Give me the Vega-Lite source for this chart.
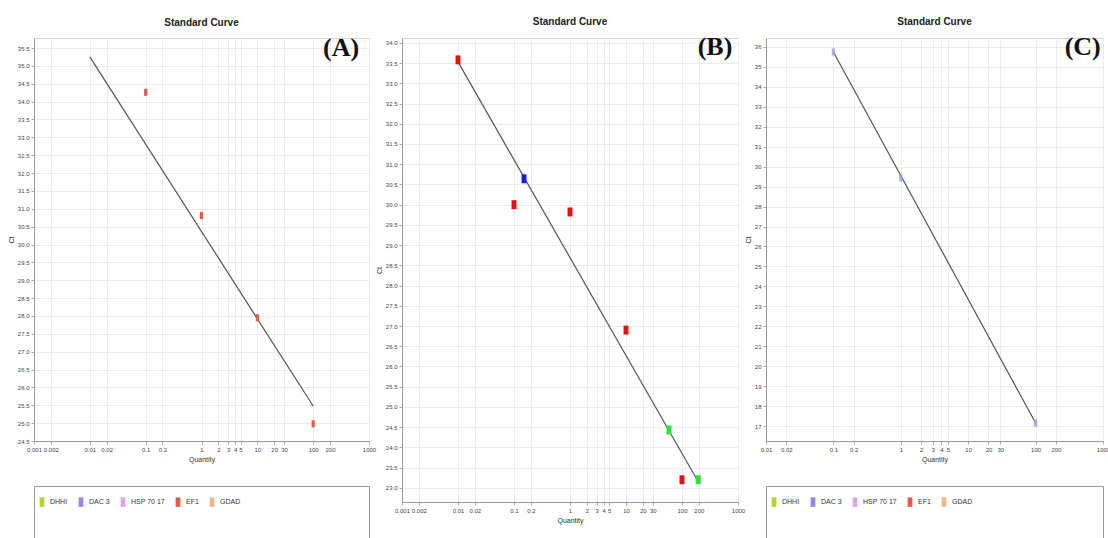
{
  "$schema": "https://vega.github.io/schema/vega-lite/v6.json",
  "background": "white",
  "padding": {"left": 6, "top": 16, "right": 0, "bottom": 0},
  "spacing": -3,
  "config": {
    "font": "Liberation Sans",
    "view": {"stroke": "#d4d4d4"},
    "axis": {"labelFontSize": 6, "labelColor": "#444", "titleFontSize": 7, "titleFontWeight": "normal", "titleColor": "#333", "gridColor": "#ebebeb", "domainColor": "#999", "tickColor": "#aaa", "tickSize": 3, "labelPadding": 2, "titlePadding": 3, "tickCount": 200},
    "title": {"fontSize": 10, "fontWeight": "bold", "color": "#222", "offset": 7}
  },
  "datasets": {
    "targets": [
      {"target": "DHHI"}, {"target": "DAC 3"}, {"target": "HSP 70 17"}, {"target": "EF1"}, {"target": "GDAD"}
    ],
    "ptsA": [
      {"quantity": 0.1, "ct": 34.26, "target": "EF1"},
      {"quantity": 1, "ct": 30.81, "target": "EF1"},
      {"quantity": 10, "ct": 27.95, "target": "EF1"},
      {"quantity": 100, "ct": 24.98, "target": "EF1"}
    ],
    "lineA": [
      {"quantity": 0.01, "ct": 35.25},
      {"quantity": 100, "ct": 25.48}
    ],
    "ptsB": [
      {"quantity": 0.01, "ct": 33.58, "target": "EF1"},
      {"quantity": 0.151, "ct": 30.64, "target": "DAC 3"},
      {"quantity": 0.1, "ct": 30.0, "target": "EF1"},
      {"quantity": 1, "ct": 29.82, "target": "EF1"},
      {"quantity": 10, "ct": 26.9, "target": "EF1"},
      {"quantity": 58.6, "ct": 24.43, "target": "DHHI"},
      {"quantity": 100, "ct": 23.2, "target": "EF1"},
      {"quantity": 195, "ct": 23.2, "target": "DHHI"}
    ],
    "lineB": [
      {"quantity": 0.01, "ct": 33.53},
      {"quantity": 195, "ct": 23.15}
    ],
    "ptsC": [
      {"quantity": 0.1, "ct": 35.75, "target": "DAC 3"},
      {"quantity": 1, "ct": 29.43, "target": "DAC 3"},
      {"quantity": 100, "ct": 17.15, "target": "DAC 3"}
    ],
    "lineC": [
      {"quantity": 0.1, "ct": 35.75},
      {"quantity": 100, "ct": 17.15}
    ]
  },
  "resolve": {"scale": {"x": "independent", "y": "independent", "color": "independent"}, "legend": {"color": "independent"}},
  "hconcat": [
    {
      "spacing": 22,
      "resolve": {"scale": {"x": "independent", "y": "independent", "color": "independent"}, "legend": {"color": "independent"}},
      "vconcat": [
        {
          "title": "Standard Curve",
          "width": 335,
          "height": 403,
          "layer": [
            {
              "data": {"name": "lineA"},
              "mark": {"type": "line", "color": "#555", "strokeWidth": 1.2},
              "encoding": {
                "x": {"field": "quantity", "type": "quantitative", "scale": {"type": "log", "domain": [0.001, 1000]}, "axis": {"title": "Quantity", "values": [0.001, 0.002, 0.01, 0.02, 0.1, 0.2, 1, 2, 3, 4, 5, 10, 20, 30, 100, 200, 1000], "format": "~g", "labelOverlap": false, "labelFlush": false, "tickCount": 200}},
                "y": {"field": "ct", "type": "quantitative", "scale": {"domain": [24.5, 35.78], "nice": false, "zero": false}, "axis": {"title": "Ct", "values": [24.5, 25, 25.5, 26, 26.5, 27, 27.5, 28, 28.5, 29, 29.5, 30, 30.5, 31, 31.5, 32, 32.5, 33, 33.5, 34, 34.5, 35, 35.5], "format": ".1f", "labelOverlap": false, "tickCount": 200}}
              }
            },
            {
              "data": {"name": "ptsA"},
              "mark": {"type": "point", "shape": "M-0.45,-1H0.45V1H-0.45Z", "filled": true, "size": 50, "opacity": 1},
              "encoding": {
                "x": {"field": "quantity", "type": "quantitative"},
                "y": {"field": "ct", "type": "quantitative"},
                "color": {"field": "target", "type": "nominal", "scale": {"domain": ["DHHI", "DAC 3", "HSP 70 17", "EF1", "GDAD"], "range": ["#b5d334", "#9a86dc", "#dca6e6", "#e25a48", "#f4b596"]}, "legend": null}
              }
            },
            {
              "data": {"values": [{}]},
              "mark": {"type": "text", "text": "(A)", "font": "Liberation Serif", "fontSize": 26, "fontWeight": "bold", "baseline": "middle", "align": "center", "color": "#111"},
              "encoding": {"x": {"datum": 316}, "y": {"datum": 35.5}}
            }
          ]
        },
        {
          "width": 335,
          "height": 52,
          "data": {"name": "targets"},
          "view": {"stroke": "#999"},
          "mark": {"type": "point", "opacity": 0, "filled": true},
          "encoding": {
            "color": {"field": "target", "type": "nominal", "scale": {"domain": ["DHHI", "DAC 3", "HSP 70 17", "EF1", "GDAD"], "range": ["#b5d334", "#9a86dc", "#dca6e6", "#e25a48", "#f4b596"]}, "legend": {"orient": "none", "legendX": 3, "legendY": 11, "direction": "horizontal", "title": null, "symbolType": "M-0.5,-1H0.5V1H-0.5Z", "symbolSize": 90, "symbolOpacity": 1, "symbolStrokeWidth": 0, "labelFontSize": 7, "labelColor": "#333", "columnPadding": 8, "labelOffset": 3}}
          }
        }
      ]
    },
    {
      "title": "Standard Curve",
      "width": 336,
      "height": 464,
      "layer": [
        {
          "data": {"name": "lineB"},
          "mark": {"type": "line", "color": "#555", "strokeWidth": 1.2},
          "encoding": {
            "x": {"field": "quantity", "type": "quantitative", "scale": {"type": "log", "domain": [0.001, 1000]}, "axis": {"title": "Quantity", "values": [0.001, 0.002, 0.01, 0.02, 0.1, 0.2, 1, 2, 3, 4, 5, 10, 20, 30, 100, 200, 1000], "format": "~g", "labelOverlap": false, "labelFlush": false, "tickCount": 200}},
            "y": {"field": "ct", "type": "quantitative", "scale": {"domain": [22.65, 34.12], "nice": false, "zero": false}, "axis": {"title": "Ct", "values": [23, 23.5, 24, 24.5, 25, 25.5, 26, 26.5, 27, 27.5, 28, 28.5, 29, 29.5, 30, 30.5, 31, 31.5, 32, 32.5, 33, 33.5, 34], "format": ".1f", "labelOverlap": false, "tickCount": 200}}
          }
        },
        {
          "data": {"name": "ptsB"},
          "mark": {"type": "point", "shape": "M-0.55,-1H0.55V1H-0.55Z", "filled": true, "size": 80, "opacity": 1},
          "encoding": {
            "x": {"field": "quantity", "type": "quantitative"},
            "y": {"field": "ct", "type": "quantitative"},
            "color": {"field": "target", "type": "nominal", "scale": {"domain": ["DHHI", "DAC 3", "EF1"], "range": ["#2fe03a", "#1c1cd0", "#e01414"]}, "legend": null}
          }
        },
        {
          "data": {"values": [{}]},
          "mark": {"type": "text", "text": "(B)", "font": "Liberation Serif", "fontSize": 26, "fontWeight": "bold", "baseline": "middle", "align": "center", "color": "#111"},
          "encoding": {"x": {"datum": 389}, "y": {"datum": 33.9}}
        }
      ]
    },
    {
      "spacing": 22,
      "resolve": {"scale": {"x": "independent", "y": "independent", "color": "independent"}, "legend": {"color": "independent"}},
      "vconcat": [
        {
          "title": "Standard Curve",
          "width": 337,
          "height": 403,
          "layer": [
            {
              "data": {"name": "lineC"},
              "mark": {"type": "line", "color": "#555", "strokeWidth": 1.2},
              "encoding": {
                "x": {"field": "quantity", "type": "quantitative", "scale": {"type": "log", "domain": [0.01, 1000]}, "axis": {"title": "Quantity", "values": [0.01, 0.02, 0.1, 0.2, 1, 2, 3, 4, 5, 10, 20, 30, 100, 200, 1000], "format": "~g", "labelOverlap": false, "labelFlush": false, "tickCount": 200}},
                "y": {"field": "ct", "type": "quantitative", "scale": {"domain": [16.25, 36.45], "nice": false, "zero": false}, "axis": {"title": "Ct", "values": [17, 18, 19, 20, 21, 22, 23, 24, 25, 26, 27, 28, 29, 30, 31, 32, 33, 34, 35, 36], "format": "d", "labelOverlap": false, "tickCount": 200}}
              }
            },
            {
              "data": {"name": "ptsC"},
              "mark": {"type": "point", "shape": "M-0.45,-1H0.45V1H-0.45Z", "filled": true, "size": 50, "opacity": 0.8},
              "encoding": {
                "x": {"field": "quantity", "type": "quantitative"},
                "y": {"field": "ct", "type": "quantitative"},
                "color": {"field": "target", "type": "nominal", "scale": {"domain": ["DHHI", "DAC 3", "HSP 70 17", "EF1", "GDAD"], "range": ["#b5d334", "#9a9ae6", "#dca6e6", "#e25a48", "#f4b596"]}, "legend": null}
              }
            },
            {
              "data": {"values": [{}]},
              "mark": {"type": "text", "text": "(C)", "font": "Liberation Serif", "fontSize": 26, "fontWeight": "bold", "baseline": "middle", "align": "center", "color": "#111"},
              "encoding": {"x": {"datum": 500}, "y": {"datum": 36.0}}
            }
          ]
        },
        {
          "width": 337,
          "height": 52,
          "data": {"name": "targets"},
          "view": {"stroke": "#999"},
          "mark": {"type": "point", "opacity": 0, "filled": true},
          "encoding": {
            "color": {"field": "target", "type": "nominal", "scale": {"domain": ["DHHI", "DAC 3", "HSP 70 17", "EF1", "GDAD"], "range": ["#b5d334", "#9a86dc", "#dca6e6", "#e25a48", "#f4b596"]}, "legend": {"orient": "none", "legendX": 3, "legendY": 11, "direction": "horizontal", "title": null, "symbolType": "M-0.5,-1H0.5V1H-0.5Z", "symbolSize": 90, "symbolOpacity": 1, "symbolStrokeWidth": 0, "labelFontSize": 7, "labelColor": "#333", "columnPadding": 8, "labelOffset": 3}}
          }
        }
      ]
    }
  ]
}
